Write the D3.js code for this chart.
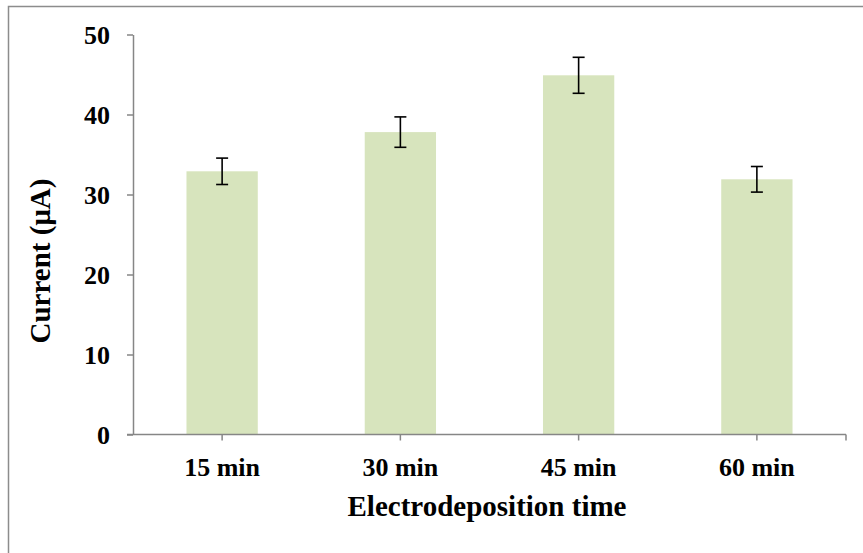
<!DOCTYPE html>
<html>
<head>
<meta charset="utf-8">
<script src="https://cdn.jsdelivr.net/npm/d3@7"></script>
<style>
  body { margin: 0; background: #fff; }
  text { font-family: "Liberation Serif", "Times New Roman", serif; font-weight: bold; fill: #000; }
</style>
</head>
<body>
<script>
// Current vs electrodeposition time, bars with error bars.
var categories = ['15 min', '30 min', '45 min', '60 min'],
    currents = [32.9, 37.8, 44.9, 31.9],
    errors = [1.65, 1.9, 2.25, 1.6],
    yTicks = [0, 10, 20, 30, 40, 50];

var width = 863,
    height = 553,
    margin = {left: 133, right: 17, top: 34.5, bottom: 118.5};

var svg = d3.select('body').append('svg')
    .attr('width', width)
    .attr('height', height);

// outer chart frame (right and bottom edges fall outside the picture)
svg.append('rect')
    .attr('x', 8.5)
    .attr('y', 6.5)
    .attr('width', 900)
    .attr('height', 600)
    .attr('fill', 'none')
    .attr('stroke', '#8c8c8c')
    .attr('stroke-width', 1.5);

var xs = d3.scaleBand()
    .domain(categories)
    .range([margin.left, width - margin.right])
    .paddingInner(0.6)
    .paddingOuter(0.3);

var ys = d3.scaleLinear()
    .domain([0, 50])
    .range([height - margin.bottom, margin.top]);

// bars
svg.append('g').selectAll('rect')
    .data(categories)
    .enter()
    .append('rect')
    .attr('x', function(d) { return xs(d); })
    .attr('y', function(d, i) { return ys(currents[i]); })
    .attr('width', xs.bandwidth())
    .attr('height', function(d, i) { return ys(0) - ys(currents[i]); })
    .attr('fill', '#d7e4bd');

// error bars
var err = svg.append('g')
    .attr('stroke', '#000')
    .attr('stroke-width', 1.6);
categories.forEach(function(c, i) {
    var cx = xs(c) + xs.bandwidth() / 2,
        top = ys(currents[i] + errors[i]),
        bot = ys(currents[i] - errors[i]);
    err.append('line').attr('x1', cx).attr('x2', cx).attr('y1', top).attr('y2', bot);
    err.append('line').attr('x1', cx - 6).attr('x2', cx + 6).attr('y1', top).attr('y2', top);
    err.append('line').attr('x1', cx - 6).attr('x2', cx + 6).attr('y1', bot).attr('y2', bot);
});

// y axis
var yAxis = svg.append('g')
    .attr('transform', 'translate(' + margin.left + ',0)')
    .call(d3.axisLeft(ys).tickValues(yTicks).tickSize(6).tickSizeOuter(0).tickPadding(17));
yAxis.selectAll('path, line').attr('stroke', '#868686').attr('stroke-width', 1.5);
yAxis.selectAll('text')
    .style('font-size', '26px')
    .attr('dy', '0.35em');

// x axis, with ticks on category boundaries like the original
var x0 = margin.left - 6, x1 = width - margin.right;
svg.append('line')
    .attr('x1', x0).attr('x2', x1)
    .attr('y1', ys(0)).attr('y2', ys(0))
    .attr('stroke', '#868686').attr('stroke-width', 1.5);
var xAxis = svg.append('g')
    .attr('transform', 'translate(0,' + ys(0) + ')')
    .call(d3.axisBottom(xs).tickSize(6).tickSizeOuter(0).tickPadding(17));
xAxis.select('.domain').remove();
xAxis.selectAll('line').attr('stroke', '#868686').attr('stroke-width', 1.5);
xAxis.selectAll('text').style('font-size', '26px');
svg.append('line')
    .attr('x1', x1).attr('x2', x1)
    .attr('y1', ys(0)).attr('y2', ys(0) + 6)
    .attr('stroke', '#868686').attr('stroke-width', 1.5);

// axis titles
svg.append('text')
    .attr('x', 487)
    .attr('y', 516)
    .attr('text-anchor', 'middle')
    .style('font-size', '29px')
    .text('Electrodeposition time');

svg.append('text')
    .attr('transform', 'translate(50,261) rotate(-90)')
    .attr('text-anchor', 'middle')
    .style('font-size', '29px')
    .text('Current (μA)');
</script>
</body>
</html>
